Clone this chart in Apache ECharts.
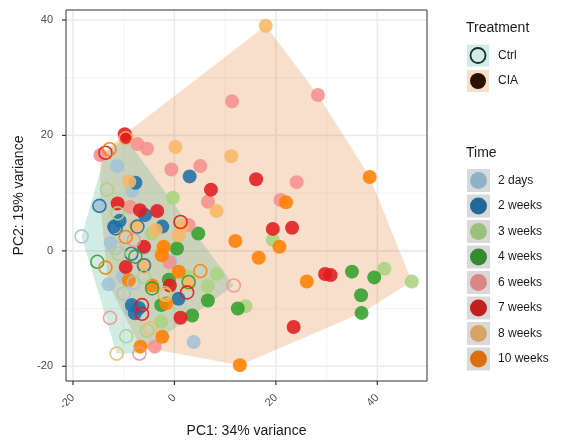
<!DOCTYPE html>
<html><head><meta charset="utf-8">
<script src="https://cdn.jsdelivr.net/npm/echarts@6/dist/echarts.min.js"></script>
<style>html,body{margin:0;padding:0;background:#fff}#c{width:565px;height:440px}</style>
</head><body><div id="c"></div>
<script>
// ---- data ----
const timeLabels = ['2 days','2 weeks','3 weeks','4 weeks','6 weeks','7 weeks','8 weeks','10 weeks'];
const treatmentLabels = ['Ctrl','CIA'];
const xTicks = [-20, 0, 20, 40];
const yTicks = [-20, 0, 20, 40];
const xMinorTicks = [-10, 10, 30];
const yMinorTicks = [-10, 10, 30];

// CIA (filled) points per time
const cia_2days = [[-11.3,14.7],[-8.3,10.4],[-14.6,7.8],[-12.6,1.4],[-13.0,-5.8],[3.8,-15.8],[-8.5,-10.3],[-10.2,-4.5],[-6.0,0.5],[-0.8,-1.8]];
const cia_2weeks = [[3.0,12.9],[-7.7,11.8],[-11.9,4.2],[-2.4,4.2],[-8.4,-9.4],[-7.8,-10.8],[0.8,-8.3],[-5.8,6.2],[-7.0,-9.9],[-10.8,5.2]];
const cia_3weeks = [[-0.3,9.2],[19.4,1.9],[41.4,-3.1],[46.8,-5.3],[14.0,-9.6],[6.6,-6.1],[8.4,-4.0],[-2.6,-12.3],[-4.5,3.0],[2.6,-4.5]];
const cia_4weeks = [[4.7,3.0],[35.0,-3.6],[39.4,-4.6],[36.8,-7.7],[36.9,-10.75],[12.5,-10.0],[6.6,-8.6],[3.5,-11.2],[0.5,0.4],[-2.6,-9.4],[-1.1,-5.0]];
const cia_6weeks = [[11.35,25.9],[28.3,27.0],[-7.3,18.5],[-5.4,17.7],[-0.6,14.1],[5.1,14.7],[24.1,11.9],[6.6,8.5],[20.9,8.8],[-14.6,16.6],[-8.7,7.6],[-3.9,-16.6],[-1.0,-2.0],[2.8,4.5]];
const cia_7weeks = [[-9.8,20.2],[-9.6,19.6],[16.1,12.4],[7.2,10.6],[19.4,3.8],[23.2,4.0],[29.7,-4.0],[30.8,-4.2],[23.5,-13.2],[1.2,-11.6],[-11.2,8.2],[-6.8,7.05],[-3.4,6.9],[-9.6,-2.8],[-0.9,-6.0],[-6.0,0.7]];
const cia_8weeks = [[18.0,39.0],[0.2,18.0],[11.2,16.4],[8.3,6.9],[-8.9,12.0],[-3.7,3.6],[1.5,4.3],[0.85,2.7],[-7.7,4.3],[-6.0,-2.8],[2.8,-5.7],[-2.3,0.5]];
const cia_10weeks = [[38.5,12.8],[22.0,8.4],[12.0,1.7],[20.7,0.7],[16.6,-1.2],[26.1,-5.3],[12.9,-19.8],[-2.4,-14.9],[-6.7,-16.6],[-9.0,-5.1],[-4.4,-6.0],[-1.6,-9.1],[-2.1,0.7],[-2.5,-0.75],[0.85,-3.6]];

// Ctrl (hollow) points per time
const ctrl_2days = [[-18.3,2.5],[-10.0,-7.4],[-11.6,0.5],[-8.0,-5.5]];
const ctrl_2weeks = [[-14.8,7.8],[-11.6,3.9],[-7.3,4.2],[-6.0,-2.5],[-8.5,-0.5]];
const ctrl_3weeks = [[-13.3,10.6],[-11.2,6.5],[-2.0,-7.3],[-5.4,-13.8],[-9.5,-14.8],[-11.0,-0.5],[-6.0,-4.5]];
const ctrl_4weeks = [[-15.2,-1.9],[2.8,-5.4],[-4.4,-6.5],[-7.7,-1.0]];
const ctrl_6weeks = [[11.7,-6.0],[-12.7,-11.6],[-6.9,-17.8],[-8.0,1.85]];
const ctrl_7weeks = [[-13.6,17.0],[1.2,5.0],[2.5,-7.2],[-6.4,-9.4],[-6.4,-10.9]];
const ctrl_8weeks = [[-9.6,19.5],[-11.4,-17.8],[-4.8,-13.4],[-1.8,-7.6]];
const ctrl_10weeks = [[-12.8,17.6],[-13.6,-2.9],[5.1,-3.5],[-9.6,2.4]];

// ---- styles ----
const ciaGroups = [cia_2days,cia_2weeks,cia_3weeks,cia_4weeks,cia_6weeks,cia_7weeks,cia_8weeks,cia_10weeks];
const ctrlGroups = [ctrl_2days,ctrl_2weeks,ctrl_3weeks,ctrl_4weeks,ctrl_6weeks,ctrl_7weeks,ctrl_8weeks,ctrl_10weeks];
const timeColors = ['#a3c3d6','#1f6fa8','#aad47f','#33a02c','#f6918e','#e31a1c','#f9b764','#ff7f00'];
const legendTimeColors = ['#8fb1c6','#21689b','#9cc07b','#348a2f','#d98785','#c41f20','#d8a366','#da7010'];
const hullFills = ['rgba(27,158,119,0.2)','rgba(217,95,2,0.2)'];
const legendHullFills = ['#d1ece4','#f7dfcc'];
const FONT = '"Liberation Sans", Arial, sans-serif';

function convexHull(points){
  const p = points.slice().sort((a,b)=>a[0]-b[0]||a[1]-b[1]);
  const cross=(o,a,b)=>(a[0]-o[0])*(b[1]-o[1])-(a[1]-o[1])*(b[0]-o[0]);
  const lower=[];for(const q of p){while(lower.length>=2&&cross(lower[lower.length-2],lower[lower.length-1],q)<=0)lower.pop();lower.push(q);}
  const upper=[];for(let i=p.length-1;i>=0;i--){const q=p[i];while(upper.length>=2&&cross(upper[upper.length-2],upper[upper.length-1],q)<=0)upper.pop();upper.push(q);}
  upper.pop();lower.pop();return lower.concat(upper);
}
const ctrlHull = convexHull([].concat(...ctrlGroups));
const ciaHull = convexHull([].concat(...ciaGroups));

const series = [];
// gridlines
const gridData = [];
xMinorTicks.forEach(v=>gridData.push([v,0,0]));
yMinorTicks.forEach(v=>gridData.push([v,1,0]));
xTicks.forEach(v=>gridData.push([v,0,1]));
yTicks.forEach(v=>gridData.push([v,1,1]));
series.push({
  type:'custom', silent:true, z:1, clip:true,
  data: gridData,
  encode:{x:-1,y:-1},
  renderItem:(params, api)=>{
    const cs = params.coordSys;
    const v = api.value(0), d = api.value(1), major = api.value(2);
    let shape;
    if(d===0){ const px = api.coord([v,0])[0]; shape={x1:px,y1:cs.y,x2:px,y2:cs.y+cs.height}; }
    else { const py = api.coord([0,v])[1]; shape={x1:cs.x,y1:py,x2:cs.x+cs.width,y2:py}; }
    return {type:'line', shape, style:{stroke: major? '#ebebeb':'#f3f3f3', lineWidth: major?1.6:0.9}};
  }
});
// axis ticks (outside the panel)
const tickData = [];
xTicks.forEach(v=>tickData.push([v,0]));
yTicks.forEach(v=>tickData.push([v,1]));
series.push({
  type:'custom', silent:true, z:5, clip:false,
  data: tickData, encode:{x:-1,y:-1},
  renderItem:(params, api)=>{
    const cs = params.coordSys;
    const v = api.value(0), d = api.value(1);
    let shape;
    if(d===0){ const px = api.coord([v,0])[0]; shape={x1:px,y1:cs.y+cs.height,x2:px,y2:cs.y+cs.height+4}; }
    else { const py = api.coord([0,v])[1]; shape={x1:cs.x-4,y1:py,x2:cs.x,y2:py}; }
    return {type:'line', shape, style:{stroke:'#333333', lineWidth:1.2}};
  }
});
// hulls
[[ciaHull,1],[ctrlHull,0]].forEach(([h,i])=>{
  series.push({
    type:'custom', silent:true, z:2, clip:true,
    data:[0], encode:{x:-1,y:-1},
    renderItem:(params, api)=>({type:'polygon', shape:{points:h.map(p=>api.coord(p))}, style:{fill:hullFills[i], stroke:'none'}})
  });
});
// filled CIA points
ciaGroups.forEach((g,i)=>{
  series.push({type:'scatter', name:timeLabels[i]+' CIA', data:g, symbol:'circle', symbolSize:14, z:3,
    itemStyle:{color:timeColors[i], opacity:0.88, borderWidth:0}});
});
// hollow Ctrl points
ctrlGroups.forEach((g,i)=>{
  series.push({type:'scatter', name:timeLabels[i]+' Ctrl', data:g, symbol:'circle', symbolSize:13, z:4,
    itemStyle:{color:'rgba(0,0,0,0)', borderColor:timeColors[i], borderWidth:1.6, opacity:0.9}});
});

// legend as graphics
const graphic = [];
graphic.push({type:'text', left:466, top:21, style:{text:'Treatment', font:'14px '+FONT, fill:'#1a1a1a'}});
treatmentLabels.forEach((t,i)=>{
  const cy = 55.5 + i*25.5;
  graphic.push({type:'rect', shape:{x:467,y:cy-11,width:22,height:22}, style:{fill:legendHullFills[i]}});
  if(i===0) graphic.push({type:'circle', shape:{cx:478,cy:cy,r:7.5}, style:{fill:'none', stroke:'#1b2e2b', lineWidth:1.8}});
  else graphic.push({type:'circle', shape:{cx:478,cy:cy,r:8}, style:{fill:'#2b1100'}});
  graphic.push({type:'text', x:498, y:cy, style:{text:t, font:'12px '+FONT, fill:'#1a1a1a', verticalAlign:'middle'}});
});
graphic.push({type:'text', left:466, top:146, style:{text:'Time', font:'14px '+FONT, fill:'#1a1a1a'}});
timeLabels.forEach((t,i)=>{
  const cy = 180.5 + i*25.5;
  graphic.push({type:'rect', shape:{x:467,y:cy-11.5,width:23,height:23}, style:{fill:'#d9d9d9'}});
  graphic.push({type:'circle', shape:{cx:478.5,cy:cy,r:8.5}, style:{fill:legendTimeColors[i]}});
  graphic.push({type:'text', x:498, y:cy, style:{text:t, font:'12px '+FONT, fill:'#1a1a1a', verticalAlign:'middle'}});
});

const chart = echarts.init(document.getElementById('c'), null, {renderer:'canvas'});
chart.setOption({
  animation:false,
  backgroundColor:'#ffffff',
  textStyle:{fontFamily:FONT},
  grid:{left:66, top:10, width:361, height:371, containLabel:false, outerBoundsMode:'none',
    show:true, borderColor:'#333333', borderWidth:1, backgroundColor:'transparent', z:10},
  xAxis:{type:'value', min:-21.38, max:49.8, position:'bottom',
    name:'PC1: 34% variance', nameLocation:'middle', nameGap:43,
    nameTextStyle:{fontSize:14, color:'#1a1a1a', fontFamily:FONT},
    axisLine:{show:false}, splitLine:{show:false},
    axisTick:{show:false},
    axisLabel:{customValues:xTicks, rotate:45, margin:15, fontSize:11, color:'#4d4d4d', fontFamily:FONT}},
  yAxis:{type:'value', min:-22.55, max:41.73,
    name:'PC2: 19% variance', nameLocation:'middle', nameGap:35,
    nameTextStyle:{fontSize:14, color:'#1a1a1a', fontFamily:FONT},
    axisLine:{show:false}, splitLine:{show:false},
    axisTick:{show:false},
    axisLabel:{customValues:yTicks, margin:13, fontSize:11, color:'#4d4d4d', fontFamily:FONT}},
  graphic: graphic,
  series: series
});
</script></body></html>
